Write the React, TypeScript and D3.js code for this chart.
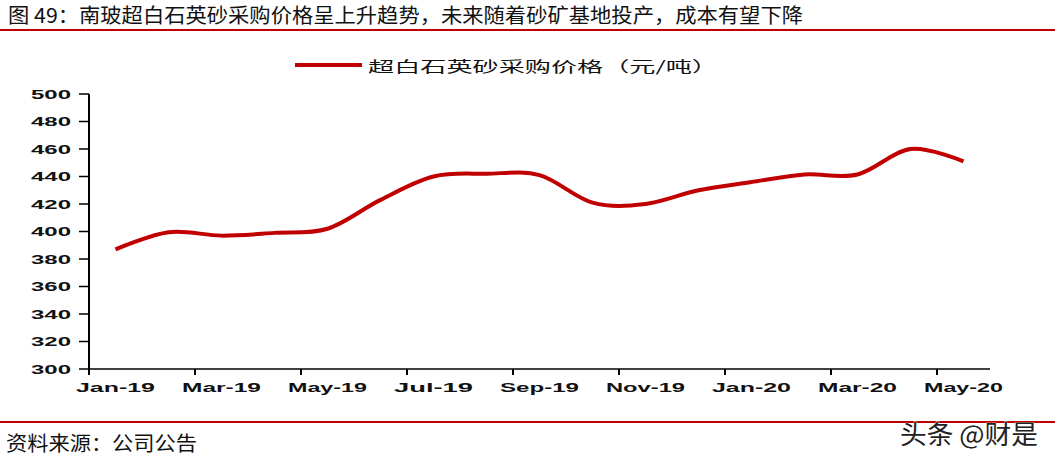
import React from 'react';
import * as d3 from 'd3';

// 超白石英砂采购价格（元/吨），按月
const months = [
    'Jan-19', 'Feb-19', 'Mar-19', 'Apr-19', 'May-19', 'Jun-19', 'Jul-19', 'Aug-19', 'Sep-19',
    'Oct-19', 'Nov-19', 'Dec-19', 'Jan-20', 'Feb-20', 'Mar-20', 'Apr-20', 'May-20'
];
const prices = [387, 399.5, 397, 399, 402, 423, 440, 442, 441, 421, 420, 430, 436, 441.5, 441.5, 460, 451];
const yTicks = [300, 320, 340, 360, 380, 400, 420, 440, 460, 480, 500];

const TITLE = '图 49：南玻超白石英砂采购价格呈上升趋势，未来随着砂矿基地投产，成本有望下降';
const LEGEND = '超白石英砂采购价格（元/吨）';
const SOURCE = '资料来源：公司公告';

const RED = '#C00000';
const CJK = '"Noto Sans CJK SC", "Noto Sans", sans-serif';
const LATIN = '"Liberation Sans", Arial, sans-serif';

export default function App() {
    const width = 1055;
    const height = 459;

    // Category axis (Excel style): ticks on category borders
    const x = d3.scaleBand<string>().domain(months).range([89, 990]).padding(0);
    const y = d3.scaleLinear().domain([300, 500]).range([369, 94]);

    const line = d3.line<number>()
        .x((_, i) => (x(months[i]) as number) + x.bandwidth() / 2)
        .y(d => y(d))
        .curve(d3.curveCardinal.tension(0));

    const tickMonths = months.filter((_, i) => i % 2 === 0);

    return (
        <svg width={width} height={height} style={{ position: 'fixed', left: 0, top: 0, background: '#fff' }}>
            {/* title */}
            <text x={8} y={23} fontFamily={CJK} fontSize={20} fill="#111"
                textLength={795} lengthAdjust="spacingAndGlyphs">{TITLE}</text>
            <line x1={0} x2={width} y1={30} y2={30} stroke={RED} strokeWidth={1.8} />

            {/* legend */}
            <line x1={295} x2={362} y1={65} y2={65} stroke={RED} strokeWidth={4} />
            <text x={368} y={72} fontFamily={CJK} fontSize={15} fill="#111"
                textLength={350} lengthAdjust="spacingAndGlyphs">{LEGEND}</text>

            {/* y axis */}
            <line x1={89} x2={89} y1={y(500)} y2={375} stroke="#000" strokeWidth={2} />
            {yTicks.map(t => (
                <g key={t}>
                    <line x1={79} x2={89} y1={y(t)} y2={y(t)} stroke="#000" strokeWidth={1.5} />
                    <text x={71} y={y(t) + 4.5} textAnchor="end" fontFamily={LATIN} fontWeight="bold"
                        fontSize={12} fill="#111" textLength={40} lengthAdjust="spacingAndGlyphs">{t}</text>
                </g>
            ))}

            {/* x axis */}
            <line x1={89} x2={990} y1={y(300)} y2={y(300)} stroke="#000" strokeWidth={1.5} />
            {tickMonths.map(m => (
                <g key={m}>
                    <line x1={x(m)} x2={x(m)} y1={y(300)} y2={y(300) + 6} stroke="#000" strokeWidth={2} />
                    <text x={(x(m) as number) + x.bandwidth() / 2} y={392} textAnchor="middle"
                        fontFamily={LATIN} fontWeight="bold" fontSize={12} fill="#111"
                        textLength={79} lengthAdjust="spacingAndGlyphs">{m}</text>
                </g>
            ))}

            {/* series */}
            <path d={line(prices) || ''} fill="none" stroke={RED} strokeWidth={4} strokeLinecap="butt" />

            {/* footer */}
            <line x1={0} x2={width} y1={422} y2={422} stroke={RED} strokeWidth={2} />
            <text x={6} y={451} fontFamily={CJK} fontSize={20} fill="#111"
                textLength={191} lengthAdjust="spacingAndGlyphs">{SOURCE}</text>
            <text x={900} y={444} fontFamily={CJK} fontSize={26} fill="#222"
                stroke="#fff" strokeWidth={0.6} paintOrder="stroke"
                textLength={138} lengthAdjust="spacingAndGlyphs">头条 @财是</text>
        </svg>
    );
}
